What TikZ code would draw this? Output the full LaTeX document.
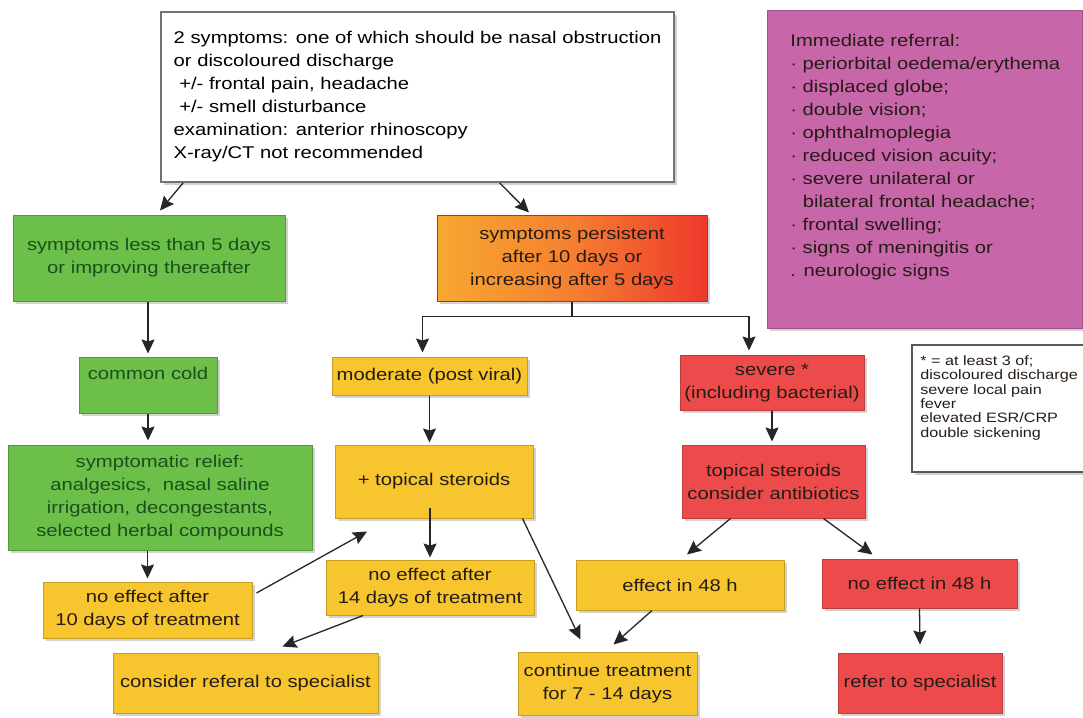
\documentclass[tikz,border=0pt]{standalone}
\usepackage{fontspec}
\setmainfont{Liberation Sans}[FakeStretch=1.19]
\usepackage{tikz}
\usetikzlibrary{calc,arrows.meta,shadows}

\definecolor{cgreen}{RGB}{108,191,72}
\definecolor{cgreentext}{RGB}{28,78,30}
\definecolor{cyellow}{RGB}{247,197,45}
\definecolor{cred}{RGB}{237,75,75}
\definecolor{cpink}{RGB}{200,102,170}
\definecolor{corange}{RGB}{247,168,48}
\definecolor{corangemid}{RGB}{245,128,48}
\definecolor{corangered}{RGB}{238,56,44}
\definecolor{cdark}{RGB}{38,28,22}

\tikzstyle{flowbox}   = [rectangle, draw, line width=0.5pt, inner sep=2pt, align=center, drop shadow={shadow xshift=1.5pt, shadow yshift=-1.5pt, opacity=0.35}]
\tikzstyle{greenbox}  = [flowbox, fill=cgreen, draw=cgreen!80!black, text=cgreentext]
\tikzstyle{yellowbox} = [flowbox, fill=cyellow, draw=cyellow!80!black, text=cdark]
\tikzstyle{redbox}    = [flowbox, fill=cred, draw=cred!80!black, text=cdark]
\tikzstyle{orangebox} = [flowbox, left color=corange, right color=corangered, middle color=corangemid, draw=corangered!80!black, text=cdark]
\tikzstyle{whitebox}  = [flowbox, fill=white, draw=black!55, line width=0.75pt]
\tikzstyle{flowarrow} = [line width=0.65pt, draw=black!85, -{Stealth[length=7pt,width=6.5pt,inset=1pt]}]

\begin{document}
\begin{tikzpicture}[x=0.5pt, y=-0.5pt, font=\fontsize{8.5}{11.5}\selectfont]
		\path[use as bounding box, fill=white] (0,0) rectangle (1083,718);

		\node[whitebox, align=left, inner xsep=6pt, minimum width=256.5pt, minimum height=85pt] (presentation) at (417.5,97) {2 symptoms: one of which should be nasal obstruction\\ or discoloured discharge\\ ~+/- frontal pain, headache\\ ~+/- smell disturbance\\ examination: anterior rhinoscopy\\ X-ray/CT not recommended};

		\node[greenbox, minimum width=136pt, minimum height=43pt] (mild) at (149,258) {symptoms less than 5 days\\ or improving thereafter};
		\node[orangebox, minimum width=135pt, minimum height=43pt] (persistent) at (572,258) {symptoms persistent\\ after 10 days or\\ increasing after 5 days};

		\node[flowbox, fill=cpink, draw=cpink!80!black, minimum width=157.5pt, minimum height=159pt] (referral) at (924.5,169) {};
		\node[anchor=north west, align=left, inner sep=0pt, text=cdark] (referraltext) at (790,34) {Immediate referral:\\ · periorbital oedema/erythema\\ · displaced globe;\\ · double vision;\\ · ophthalmoplegia\\ · reduced vision acuity;\\ · severe unilateral or\\ \hphantom{·}\ bilateral frontal headache;\\ · frontal swelling;\\ · signs of meningitis or\\ . neurologic signs};

		\node[greenbox, text depth=12pt, minimum width=69pt, minimum height=28pt] (cold) at (148,385) {common cold};
		\node[yellowbox, minimum width=97.5pt, minimum height=19pt] (moderate) at (429.5,376) {moderate (post viral)};
		\node[redbox, minimum width=92pt, minimum height=27.5pt] (severe) at (772,382.5) {severe *\\ (including bacterial)};

		\node[whitebox, line width=0.6pt, draw=black!65, minimum width=87pt, minimum height=63.5pt] (note) at (999,408.5) {};
		\node[anchor=north west, align=left, inner sep=0pt, text=cdark, font=\fontsize{6.8}{7.2}\selectfont] (notetext) at (920,355) {* = at least 3 of;\\ discoloured discharge\\ severe local pain\\ fever\\ elevated ESR/CRP\\ double sickening};

		\node[greenbox, minimum width=152pt, minimum height=52.5pt] (relief) at (160,497.5) {symptomatic relief:\\ analgesics,\ \ nasal saline\\ irrigation, decongestants,\\ selected herbal compounds};
		\node[yellowbox, minimum width=99pt, minimum height=36.5pt] (steroids) at (434,481.5) {+ topical steroids};
		\node[redbox, minimum width=91.5pt, minimum height=36.5pt] (antibiotics) at (773.5,481.5) {topical steroids\\ consider antibiotics};

		\node[yellowbox, minimum width=104.5pt, minimum height=28pt] (noeffectten) at (147.5,610) {no effect after\\ 10 days of treatment};
		\node[yellowbox, minimum width=104pt, minimum height=27.5pt] (noeffectfourteen) at (430,587.5) {no effect after\\ 14 days of treatment};
		\node[yellowbox, minimum width=104pt, minimum height=25pt] (effect) at (680,585) {effect in 48 h};
		\node[redbox, minimum width=97.5pt, minimum height=24.5pt] (noeffect) at (919.5,583.5) {no effect in 48 h};

		\node[yellowbox, minimum width=132.5pt, minimum height=30pt] (considerreferral) at (245.5,683) {consider referal to specialist};
		\node[yellowbox, minimum width=89.5pt, minimum height=31.5pt] (continuetreat) at (607.5,683.5) {continue treatment\\ for 7 - 14 days};
		\node[redbox, minimum width=82pt, minimum height=30pt] (referspecialist) at (920,683) {refer to specialist};

		\draw[flowarrow] ($(presentation.south west)+(23,0)$) -- ($(mild.north)+(11,-4)$);
		\draw[flowarrow] ($(presentation.south)+(82,0)$) -- ($(persistent.north)+(-43,-2)$);
		\draw[flowarrow] (cold.north |- mild.south) -- ($(cold.north)+(0,-3)$);
		\draw[line width=0.65pt, draw=black!85] (persistent.south) -- ++(0,15) coordinate (split);
		\draw[flowarrow] (split) -| ($(moderate.north)+(-7,-4)$);
		\draw[flowarrow] (split) -| ($(severe.north)+(-23,-4)$);
		\draw[flowarrow] (cold.south) -- ($(cold.south |- relief.north)+(0,-4)$);
		\draw[flowarrow] (noeffectten.north |- relief.south) -- ($(noeffectten.north)+(0,-3)$);
		\draw[flowarrow] (moderate.south) -- ($(moderate.south |- steroids.north)+(0,-2)$);
		\draw[flowarrow] ($(noeffectfourteen.north |- steroids.south)+(0,-11)$) -- ($(noeffectfourteen.north)+(0,-2)$);
		\draw[flowarrow] ($(noeffectten.east)+(4,-17)$) -- ($(steroids.south)+(-67,13)$);
		\draw[flowarrow] ($(noeffectfourteen.south)+(-67,0)$) -- ($(considerreferral.north)+(37,-6)$);
		\draw[flowarrow] ($(steroids.south east)+(-11,0)$) -- ($(continuetreat.north)+(-27,-12)$);
		\draw[flowarrow] ($(effect.south)+(-28,0)$) -- ($(continuetreat.north)+(6,-7)$);
		\draw[flowarrow] (severe.south) -- ($(severe.south |- antibiotics.north)+(0,-3)$);
		\draw[flowarrow] ($(antibiotics.south)+(-43,0)$) -- ($(effect.north)+(7,-5)$);
		\draw[flowarrow] ($(antibiotics.south)+(50,0)$) -- ($(noeffect.north)+(-47,-4)$);
		\draw[flowarrow] (noeffect.south) -- ($(referspecialist.north)+(0,-8)$);
	\end{tikzpicture}
\end{document}
